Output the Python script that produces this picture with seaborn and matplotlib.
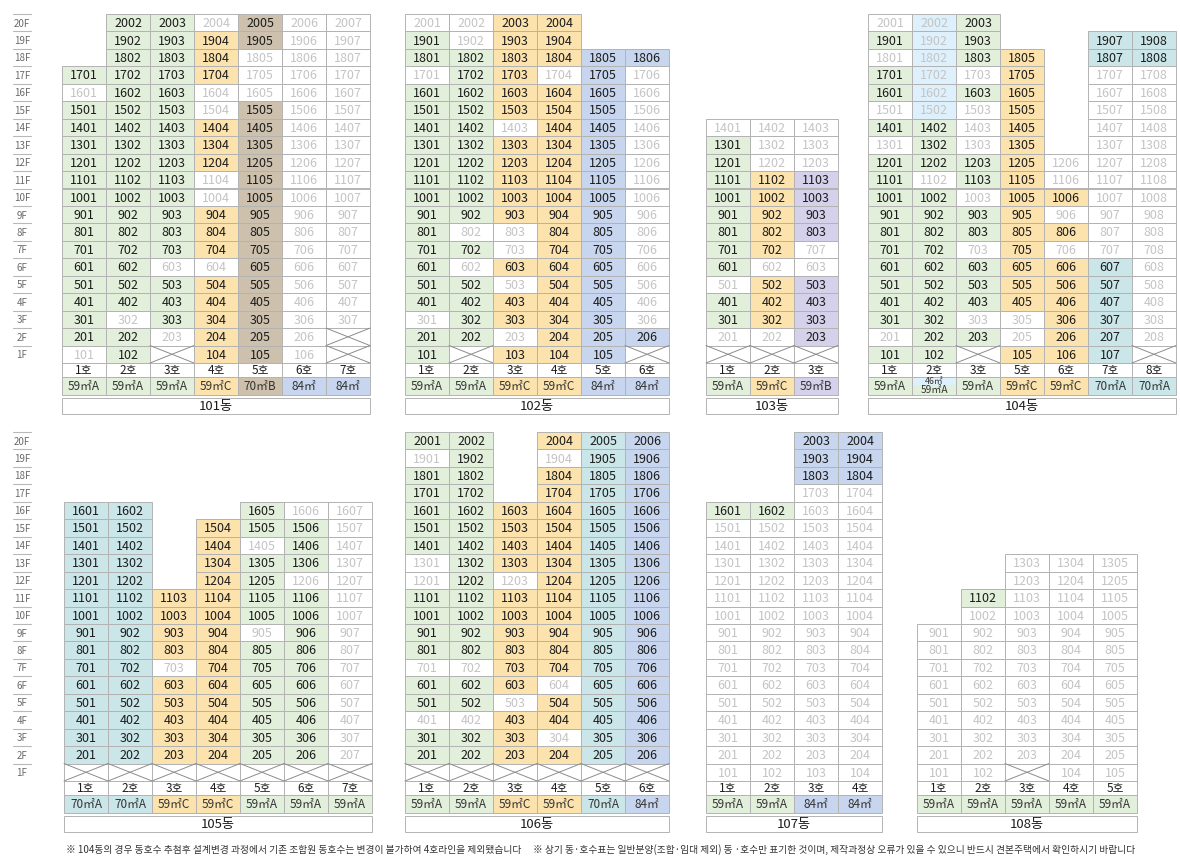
import numpy as np
import pandas as pd
import matplotlib
matplotlib.use('Agg')
import matplotlib.pyplot as plt
from matplotlib.colors import ListedColormap
from matplotlib.patches import Rectangle
import seaborn as sns

# ---------------- data ----------------
FLOORS = list(range(20, 0, -1))

TYPE_NAMES = ['none', '59A', '59C', '70B', '84', '59B', '70A', '46']
TYPE_LABELS = {'59A': '59㎡A', '59C': '59㎡C', '70B': '70㎡B', '84': '84㎡',
               '59B': '59㎡B', '70A': '70㎡A', '46': '46㎡'}
TYPE_COLORS = ['#ffffff', '#e2efda', '#fce3ae', '#cdc1ae', '#c7d6ee',
               '#d6d1eb', '#cae6e9', '#ddf0fb']

# grid codes: o = 분양(colored), . = 미분양/제외(white), x = 필로티, b = 46㎡(light blue), ' ' = 없음
b101_name = '101동'
b101_lines = [1, 2, 3, 4, 5, 6, 7]
b101_types = ['59A', '59A', '59A', '59C', '70B', '84', '84']
b101_grid = [" oo.o..", " oooo..", " ooo...", "oooo...", ".oo....",
             "ooo.o..", "ooooo..", "ooooo..", "ooooo..", "ooo.o..",
             "ooo.o..", "ooooo..", "ooooo..", "ooooo..", "oo..o..",
             "ooooo..", "ooooo..", "o.ooo..", "oo.oo.x", ".oxoo.x"]

b102_name = '102동'
b102_lines = [1, 2, 3, 4, 5, 6]
b102_types = ['59A', '59A', '59C', '59C', '84', '84']
b102_grid = ["..oo  ", "o.oo  ", "oooooo", ".oo.o.", "ooooo.",
             "ooooo.", "oo.oo.", "ooooo.", "ooooo.", "ooooo.",
             "ooooo.", "ooooo.", "o..oo.", "oo.oo.", "o.ooo.",
             "oo.oo.", "ooooo.", ".oooo.", "oo.ooo", "oxooox"]

b103_name = '103동'
b103_lines = [1, 2, 3]
b103_types = ['59A', '59C', '59B']
b103_grid = ["   ", "   ", "   ", "   ", "   ", "   ", "...", "o..", "o..", "ooo",
             "ooo", "ooo", "ooo", "oo.", "o..", ".oo", "ooo", "ooo", "..o", "xxx"]
b103_labels = {(7, 3): '707'}

b104_name = '104동'
b104_lines = [1, 2, 3, 5, 6, 7, 8]
b104_types = ['59A', '46/59A', '59A', '59C', '59C', '70A', '70A']
b104_grid = [".bo    ", "obo  oo", ".boo oo", "ob.o ..", "oboo ..",
             ".b.o ..", "oo.o ..", ".o.o ..", "oooo...", "o.oo...",
             "oo.oo..", "oooo...", "ooooo..", "oo.o...", "oooooo.",
             "oooooo.", "oooooo.", "oo..oo.", ".oo.oo.", "ooxooox"]

b105_name = '105동'
b105_lines = [1, 2, 3, 4, 5, 6, 7]
b105_types = ['70A', '70A', '59C', '59C', '59A', '59A', '59A']
b105_grid = ["       ", "       ", "       ", "       ", "oo  o..",
             "oo ooo.", "oo o.o.", "oo ooo.", "oo oo..", "oooooo.",
             "oooooo.", "oooo.o.", "oooooo.", "oo.ooo.", "oooooo.",
             "oooooo.", "oooooo.", "oooooo.", "oooooo.", "xxxxxxx"]

b106_name = '106동'
b106_lines = [1, 2, 3, 4, 5, 6]
b106_types = ['59A', '59A', '59C', '59C', '70A', '84']
b106_grid = ["oo ooo", ".o .oo", "oo ooo", "oo ooo", "oooooo",
             "oooooo", "oooooo", ".ooooo", ".o.ooo", "oooooo",
             "oooooo", "oooooo", "oooooo", "..oooo", "ooo.oo",
             "oo.ooo", "..oooo", "ooo.oo", "oooooo", "xxxxxx"]

b107_name = '107동'
b107_lines = [1, 2, 3, 4]
b107_types = ['59A', '59A', '84', '84']
b107_grid = ["  oo", "  oo", "  oo", "  ..", "oo..", "....", "....", "....", "....", "....",
             "....", "....", "....", "....", "....", "....", "....", "....", "....", "...."]

b108_name = '108동'
b108_lines = [1, 2, 3, 4, 5]
b108_types = ['59A', '59A', '59A', '59A', '59A']
b108_grid = ["     ", "     ", "     ", "     ", "     ", "     ", "     ", "  ...", "  ...", " o...",
             " ....", ".....", ".....", ".....", ".....", ".....", ".....", ".....", ".....", "..x.."]

NOTE_1 = '※ 104동의 경우 동호수 추첨후 설계변경 과정에서 기존 조합원 동호수는 변경이 불가하여 4호라인을 제외됐습니다'
NOTE_2 = '※ 상기 동·호수표는 일반분양(조합·임대 제외) 동 ·호수만 표기한 것이며, 제작과정상 오류가 있을 수 있으니 반드시 견본주택에서 확인하시기 바랍니다'

# ---------------- style / layout ----------------
sns.set_theme(style='white')
plt.rcParams['font.family'] = ['Noto Sans CJK KR', 'DejaVu Sans']

W, H = 1180, 867
CW = 44.0      # cell width px
RH = 17.45     # floor row height px
H_HO = 14.0 / RH
H_TYPE = 17.6 / RH
GAP = 3.4 / RH
H_NAME = 15.6 / RH
Y_HO = 20.0
Y_TYPE = Y_HO + H_HO
Y_NAME = Y_TYPE + H_TYPE + GAP
Y_MAX = Y_NAME + H_NAME + 0.05

GRID_C = '#b3b3b3'
DARK = '#1c1c1c'
FADED = '#c4c4c4'
LW = 0.7

fig = plt.figure(figsize=(W / 100, H / 100), dpi=100)
fig.patch.set_facecolor('white')

cmap = ListedColormap(TYPE_COLORS)


def px_axes(x0, y0, w, h):
    return fig.add_axes([x0 / W, 1 - (y0 + h) / H, w / W, h / H])


def draw_floor_labels(y0):
    ax = px_axes(13, y0, 18, Y_MAX * RH)
    ax.set_xlim(0, 1)
    ax.set_ylim(Y_MAX, 0)
    ax.axis('off')
    for i, f in enumerate(FLOORS):
        ax.plot([0, 1], [i, i], color='#b8b8b8', lw=0.8, clip_on=False)
        ax.text(0.5, i + 0.55, f'{f}F', ha='center', va='center',
                fontsize=7, color='#6a6a6a')


def draw_building(x0, y0, name, lines, types, grid, labels=None):
    labels = labels or {}
    ncol = len(lines)
    ax = px_axes(x0, y0, ncol * CW, Y_MAX * RH)
    codes = np.full((len(FLOORS), ncol), np.nan)
    for i in range(len(FLOORS)):
        for j in range(ncol):
            ch = grid[i][j]
            base = types[j].split('/')[-1]
            if ch == 'o':
                codes[i, j] = TYPE_NAMES.index(base)
            elif ch in '.x':
                codes[i, j] = 0
            elif ch == 'b':
                codes[i, j] = TYPE_NAMES.index('46')
    df = pd.DataFrame(codes, index=[f'{f}F' for f in FLOORS],
                      columns=[f'{l}호' for l in lines])
    sns.heatmap(df, ax=ax, cmap=cmap, vmin=-0.5, vmax=len(TYPE_COLORS) - 0.5,
                cbar=False, linewidths=0, xticklabels=False, yticklabels=False)
    for c in ax.collections:
        c.set_clip_on(False)
    ax.set_xlim(0, ncol)
    ax.set_ylim(Y_MAX, 0)
    ax.axis('off')

    for i, f in enumerate(FLOORS):
        for j, l in enumerate(lines):
            ch = grid[i][j]
            if ch == ' ':
                continue
            ax.add_patch(Rectangle((j, i), 1, 1, facecolor='none', edgecolor=GRID_C,
                                   lw=LW, clip_on=False, zorder=3))
            if ch == 'x':
                ax.plot([j, j + 1], [i, i + 1], color='#8c8c8c', lw=0.7, clip_on=False, zorder=3)
                ax.plot([j, j + 1], [i + 1, i], color='#8c8c8c', lw=0.7, clip_on=False, zorder=3)
                continue
            txt = labels.get((f, l), f'{f * 100 + l}')
            ax.text(j + 0.5, i + 0.55, txt, ha='center', va='center', fontsize=9,
                    color=DARK if ch == 'o' else FADED, zorder=4)

    for j, (l, t) in enumerate(zip(lines, types)):
        ax.add_patch(Rectangle((j, Y_HO), 1, H_HO, facecolor='white',
                               edgecolor=GRID_C, lw=LW, clip_on=False))
        ax.text(j + 0.5, Y_HO + H_HO / 2 + 0.05, f'{l}호', ha='center', va='center',
                fontsize=8.5, color=DARK)
        if '/' in t:
            top, bot = t.split('/')
            ax.add_patch(Rectangle((j, Y_TYPE), 1, H_TYPE * 0.45,
                                   facecolor=TYPE_COLORS[TYPE_NAMES.index(top)],
                                   edgecolor='none', clip_on=False))
            ax.add_patch(Rectangle((j, Y_TYPE + H_TYPE * 0.45), 1, H_TYPE * 0.55,
                                   facecolor=TYPE_COLORS[TYPE_NAMES.index(bot)],
                                   edgecolor='none', clip_on=False))
            ax.add_patch(Rectangle((j, Y_TYPE), 1, H_TYPE, facecolor='none',
                                   edgecolor=GRID_C, lw=LW, clip_on=False))
            ax.text(j + 0.5, Y_TYPE + H_TYPE * 0.25, TYPE_LABELS[top], ha='center',
                    va='center', fontsize=6.3, color='#333333')
            ax.text(j + 0.5, Y_TYPE + H_TYPE * 0.74, TYPE_LABELS[bot], ha='center',
                    va='center', fontsize=7.3, color='#333333')
        else:
            ax.add_patch(Rectangle((j, Y_TYPE), 1, H_TYPE,
                                   facecolor=TYPE_COLORS[TYPE_NAMES.index(t)],
                                   edgecolor=GRID_C, lw=LW, clip_on=False))
            ax.text(j + 0.5, Y_TYPE + H_TYPE / 2 + 0.04, TYPE_LABELS[t], ha='center',
                    va='center', fontsize=8.5, color='#333333')

    ax.add_patch(Rectangle((0, Y_NAME), ncol, H_NAME, facecolor='white',
                           edgecolor=GRID_C, lw=LW, clip_on=False))
    ax.text(ncol / 2, Y_NAME + H_NAME / 2 + 0.04, name, ha='center', va='center',
            fontsize=9.5, color=DARK)


TOP_Y, BOT_Y = 14, 432
draw_floor_labels(TOP_Y)
draw_floor_labels(BOT_Y)

draw_building(62, TOP_Y, b101_name, b101_lines, b101_types, b101_grid)
draw_building(405, TOP_Y, b102_name, b102_lines, b102_types, b102_grid)
draw_building(706, TOP_Y, b103_name, b103_lines, b103_types, b103_grid, b103_labels)
draw_building(868, TOP_Y, b104_name, b104_lines, b104_types, b104_grid)
draw_building(64, BOT_Y, b105_name, b105_lines, b105_types, b105_grid)
draw_building(405, BOT_Y, b106_name, b106_lines, b106_types, b106_grid)
draw_building(706, BOT_Y, b107_name, b107_lines, b107_types, b107_grid)
draw_building(917, BOT_Y, b108_name, b108_lines, b108_types, b108_grid)

fig.text(66 / W, 1 - 850 / H, NOTE_1, ha='left', va='center', fontsize=7.0, color='#333333')
fig.text(533 / W, 1 - 850 / H, NOTE_2, ha='left', va='center', fontsize=7.0, color='#333333')

fig.savefig('out.png', dpi=100, facecolor='white')
